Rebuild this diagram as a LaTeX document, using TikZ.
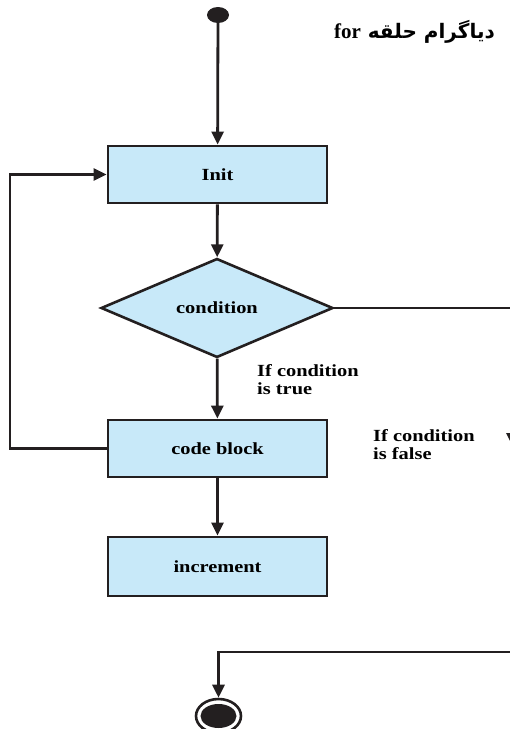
\documentclass[tikz,border=0pt]{standalone}
\usepackage{fontspec}
\usetikzlibrary{shapes.geometric,arrows.meta}
\TeXXeTstate=1
\newfontfamily\lab[FakeStretch=1.2]{Liberation Serif}
\newfontfamily\titlelat{Liberation Serif}
\newfontfamily\arabicfont[Script=Arabic]{DejaVu Sans}
\definecolor{boxfill}{RGB}{200,233,249}
\definecolor{ink}{RGB}{35,31,32}
\tikzset{
  x=1pt, y=1pt,
  flow/.style={draw=ink, line width=2.8pt, -{Triangle[length=13pt,width=12pt]}},
  plainline/.style={draw=ink, line width=2.4pt},
  stepbox/.style={rectangle, draw=ink, line width=2.8pt, fill=boxfill,
    minimum width=219pt, minimum height=57pt, inner sep=0pt,
    font=\lab\fontsize{17}{19}\selectfont\bfseries},
  decbox/.style={diamond, draw=ink, line width=2.6pt, fill=boxfill,
    minimum width=232pt, minimum height=99pt, inner sep=0pt,
    font=\lab\fontsize{17}{19}\selectfont\bfseries},
  lbl/.style={align=left, inner sep=0pt, anchor=north west,
    font=\lab\fontsize{17}{18}\selectfont\bfseries},
}
\begin{document}
\begin{tikzpicture}
\useasboundingbox (0,0) rectangle (510,-729);
\clip (0,0) rectangle (510,-729);
\node[ellipse, fill=ink, minimum width=22pt, minimum height=16pt, inner sep=0pt] (start) at (218,-15) {};
\node[stepbox] (init) at (217.5,-174.5) {Init};
\node[decbox] (cond) at (217,-308) {\raisebox{1pt}{condition}};
\node[stepbox] (code) at (217.5,-448.5) {code block};
\node[stepbox, minimum height=59pt] (incr) at (217.5,-566.5) {increment};
\node[ellipse, draw=ink, line width=2.6pt, fill=white, minimum width=45pt, minimum height=34pt, inner sep=0pt] (endo) at (218.5,-716) {};
\node[ellipse, fill=ink, minimum width=36pt, minimum height=24pt, inner sep=0pt] (endi) at (218.5,-716) {};
\coordinate (r1) at (512.5,-308);
\coordinate (r2) at (512.5,-446);
\coordinate (b1) at (520,-652);
\coordinate (b2) at (218.5,-652);
\coordinate (l1) at (10,-448.5);
\coordinate (l2) at (10,-174.5);

\draw[flow] (start) -- (init);
\draw[flow] (init) -- (cond);
\draw[flow] (cond) -- (code);
\draw[flow] (code) -- (incr);
\draw[flow] (code.west) -- (l1) -- (l2) -- (init.west);
\draw[plainline] (cond.east) -- (r1);
\draw[flow] (r1) -- (r2);
\draw[flow] (b1) -- (b2) -- (endo.north);

\node[lbl] (ltrue) at (257,-364) {If condition\\is true};
\node[lbl] (lfalse) at (373,-429) {If condition\\is false};
\node[anchor=east, inner sep=0pt] (title) at (495,-32)
  {\arabicfont\bfseries\fontsize{20}{22}\selectfont\beginR دیاگرام حلقه \beginL{\titlelat\bfseries\fontsize{21}{22}\selectfont for}\endL\endR};
\end{tikzpicture}
\end{document}
